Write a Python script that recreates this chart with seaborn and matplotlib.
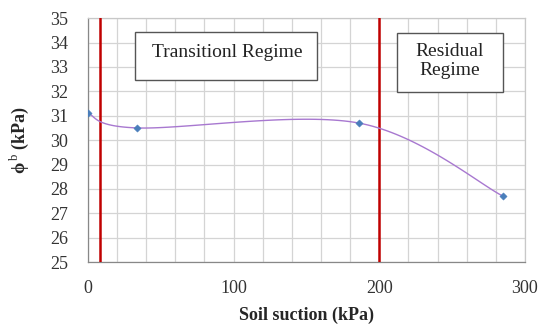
import numpy as np
import pandas as pd
import matplotlib
matplotlib.use("Agg")
import matplotlib.pyplot as plt
from matplotlib.patches import Rectangle
import seaborn as sns

# Data
suction = [0, 34, 186, 285]
phi_b = [31.1, 30.5, 30.7, 27.7]
boundaries = [8, 200]
x_ticks = [0, 100, 200, 300]
y_ticks = list(range(25, 36))

sns.set_theme(style="white")
plt.rcParams['font.family'] = ['Liberation Serif', 'DejaVu Serif']
plt.rcParams['mathtext.fontset'] = 'custom'
plt.rcParams['mathtext.rm'] = 'Liberation Serif'
plt.rcParams['mathtext.bf'] = 'Liberation Serif:bold'

def smooth_curve(xs, ys, n=40):
    P = np.column_stack([xs, ys]).astype(float)
    m = len(P)
    out = []
    for i in range(m - 1):
        p0 = P[i - 1] if i > 0 else P[i]
        p1 = P[i]
        p2 = P[i + 1]
        p3 = P[i + 2] if i + 2 < m else P[i + 1]
        c1 = p1 + (p2 - p0) / 6.0
        c2 = p2 - (p3 - p1) / 6.0
        t = np.linspace(0, 1, n)[:, None]
        seg = ((1 - t) ** 3) * p1 + 3 * ((1 - t) ** 2) * t * c1 + 3 * (1 - t) * t ** 2 * c2 + t ** 3 * p2
        out.append(seg if i == 0 else seg[1:])
    return np.vstack(out)

curve = smooth_curve(suction, phi_b)
df_curve = pd.DataFrame({"x": curve[:, 0], "y": curve[:, 1]})
df_pts = pd.DataFrame({"x": suction, "y": phi_b})

fig = plt.figure(figsize=(5.39, 3.24), dpi=100)
ax = fig.add_axes([0.163, 0.191, 0.811, 0.753])

ax.set_xlim(0, 300)
ax.set_ylim(25, 35)
ax.set_xticks(x_ticks)
ax.set_xticks(np.arange(0, 301, 20), minor=True)
ax.set_yticks(y_ticks)
ax.grid(True, which='both', color='#d4d4d4', linewidth=0.9)
ax.set_axisbelow(True)

for b in boundaries:
    ax.axvline(b, color='#c00000', linewidth=1.8, zorder=3)

sns.lineplot(data=df_curve, x="x", y="y", ax=ax, color='#a878d0', linewidth=1.0,
             sort=False, estimator=None, zorder=4)
sns.scatterplot(data=df_pts, x="x", y="y", ax=ax, marker='D', s=14, color='#4a7ebb',
                edgecolor='#4a7ebb', zorder=5)

for s in ax.spines.values():
    s.set_color('#c8c8c8')
    s.set_linewidth(0.9)
ax.spines['left'].set_color('#888888')
ax.spines['bottom'].set_color('#888888')

ax.tick_params(axis='both', which='major', labelsize=13, colors='#333333', length=5,
               color='#888888', width=0.8)
ax.tick_params(axis='y', which='major', pad=9)
ax.tick_params(axis='x', which='major', pad=8)
ax.tick_params(axis='both', which='minor', length=0)
ax.set_xlabel('Soil suction (kPa)', fontsize=13, fontweight='bold', labelpad=7)
ax.set_ylabel('ϕ$^{\\,\\mathrm{b}}$ (kPa)', fontsize=13, fontweight='bold', labelpad=14)

# boxes (axes coordinates)
ax.add_patch(Rectangle((0.1075, 0.746), 0.4165, 0.197, transform=ax.transAxes,
                       facecolor='white', edgecolor='#555555', linewidth=1.0, zorder=6))
ax.add_patch(Rectangle((0.707, 0.697), 0.243, 0.242, transform=ax.transAxes,
                       facecolor='white', edgecolor='#555555', linewidth=1.0, zorder=6))
ax.text(0.318, 0.861, 'Transitionl Regime', transform=ax.transAxes, fontsize=14,
        ha='center', va='center', color='#222222', zorder=7)
ax.text(0.827, 0.824, 'Residual\nRegime', transform=ax.transAxes, fontsize=14,
        ha='center', va='center', color='#222222', linespacing=1.15, zorder=7)

fig.savefig('out.png', dpi=100)
